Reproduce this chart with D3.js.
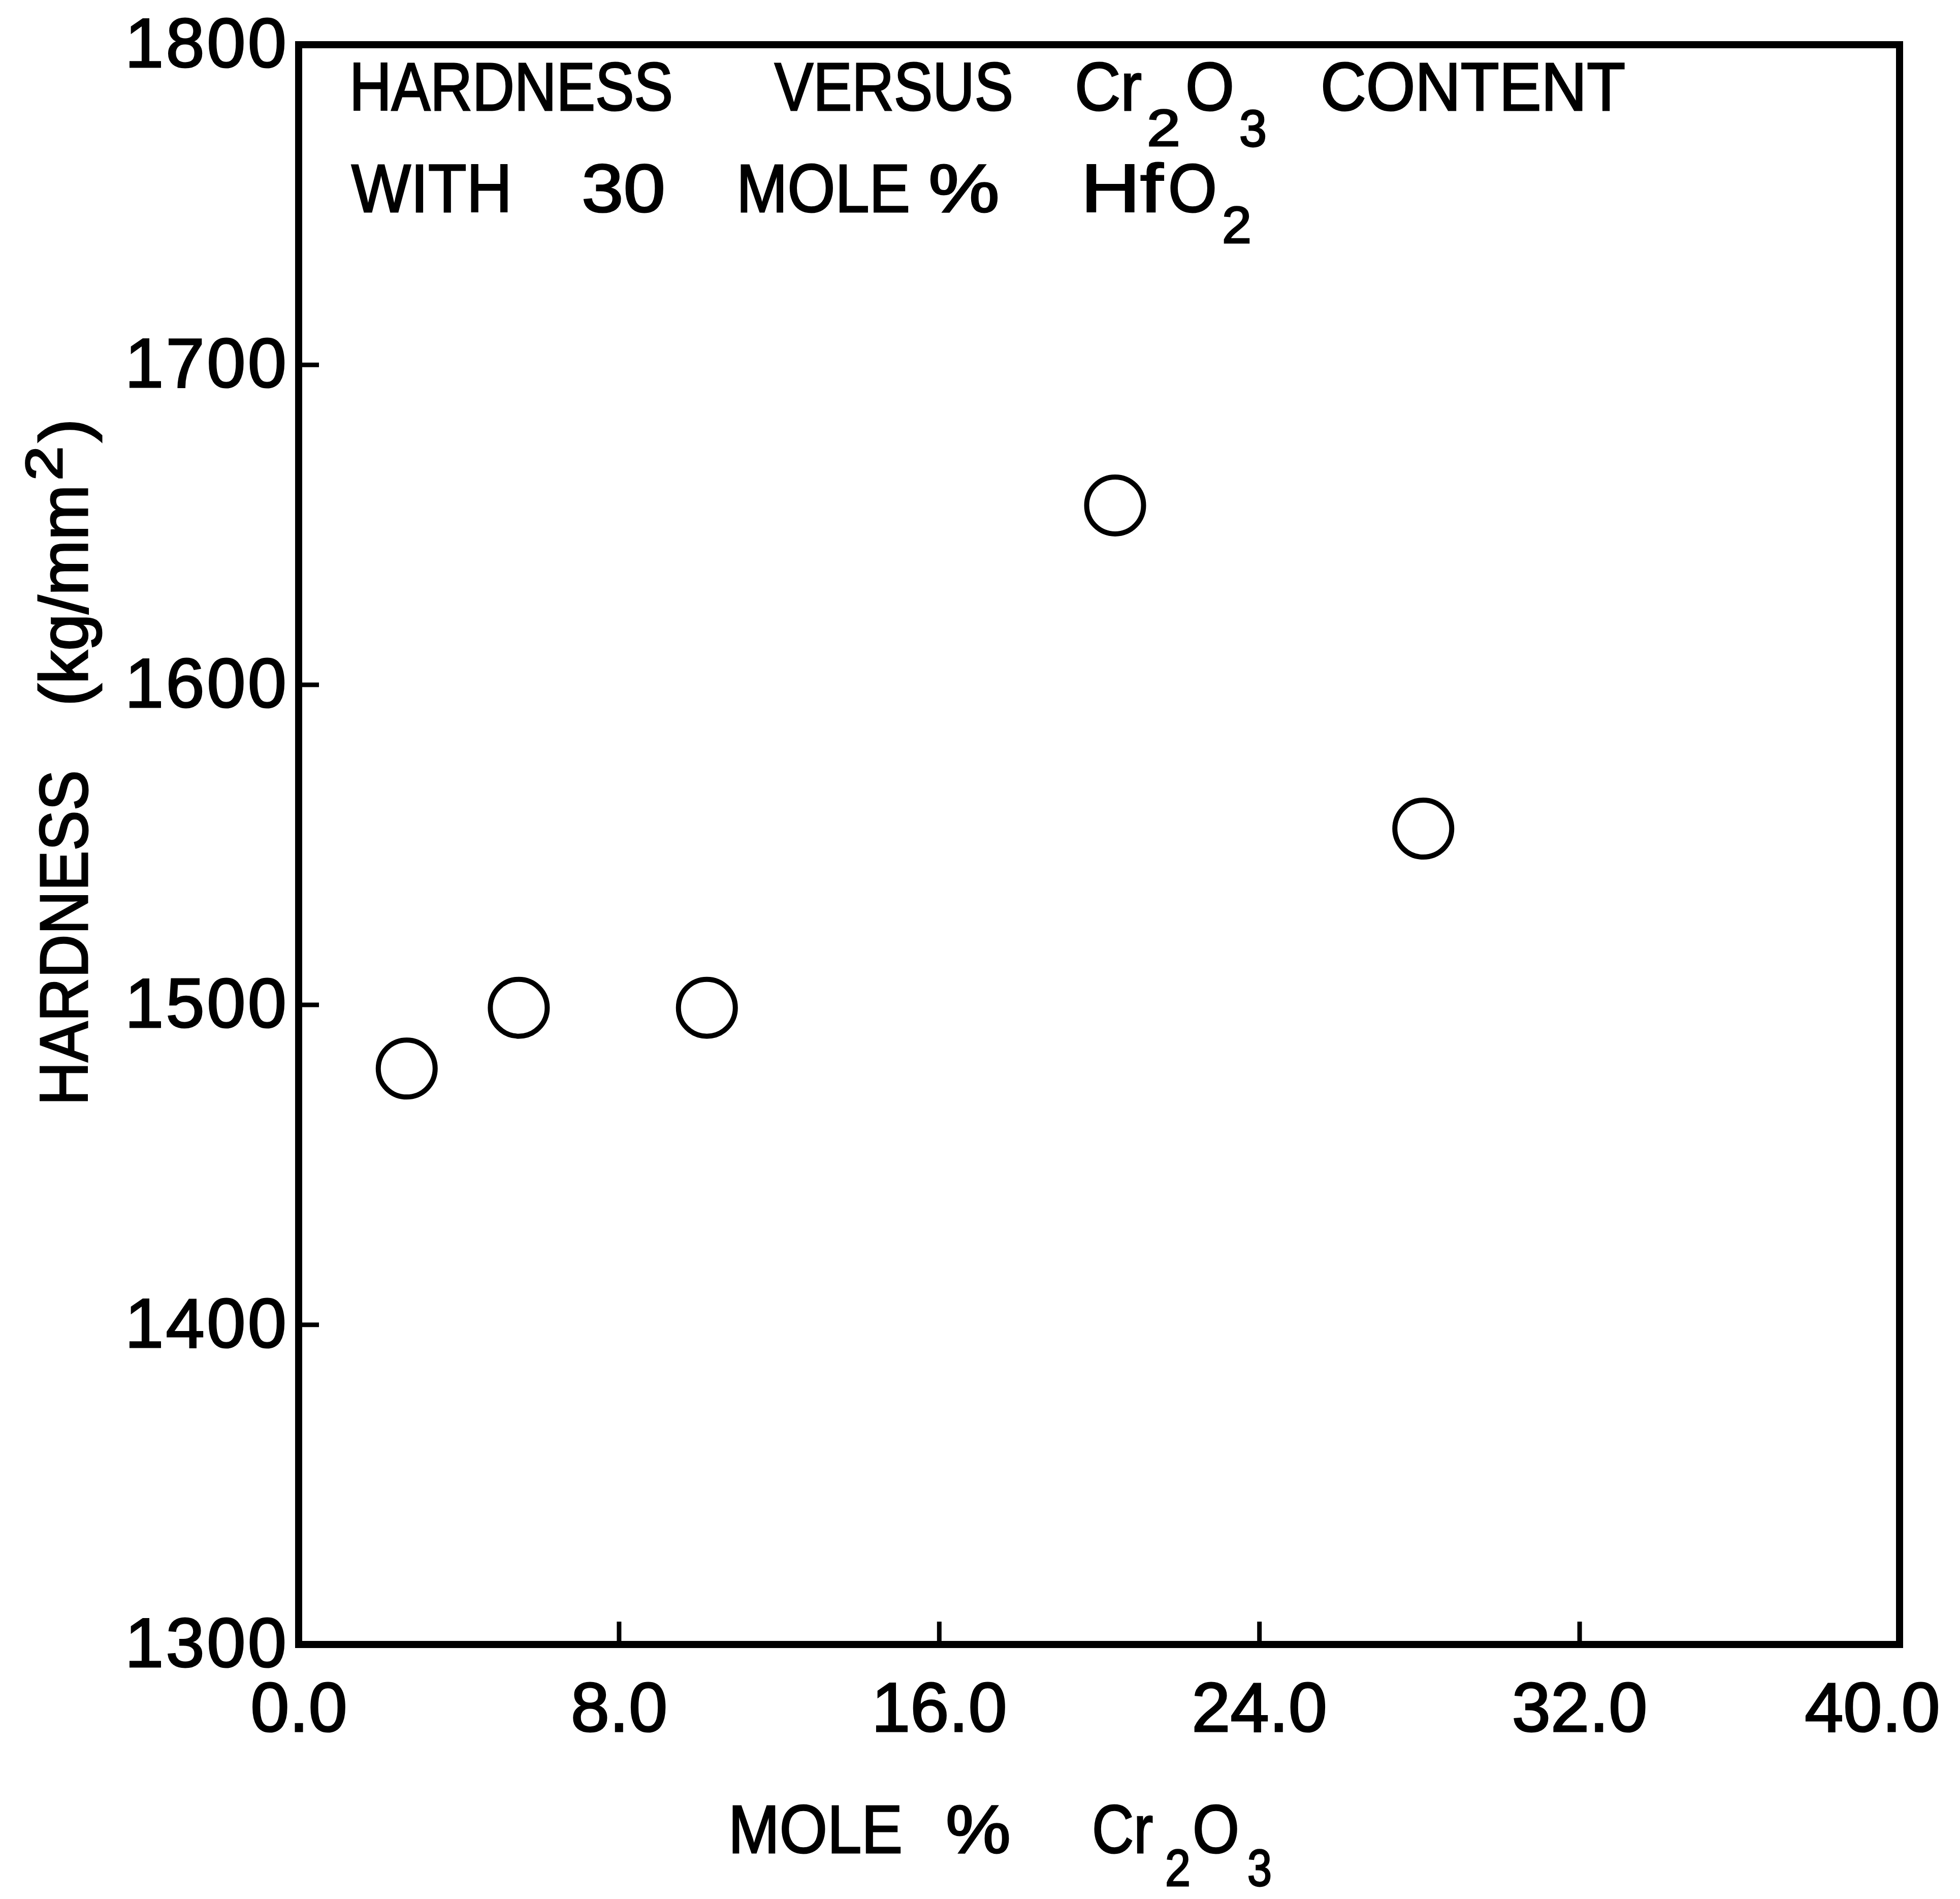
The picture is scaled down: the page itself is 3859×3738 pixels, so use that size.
<!DOCTYPE html>
<html>
<head>
<meta charset="utf-8">
<script src="https://cdn.jsdelivr.net/npm/d3@7"></script>
<style>
  body { margin: 0; background: #fff; }
  text { font-family: "Liberation Sans", Arial, sans-serif; fill: #000; stroke: #000; stroke-width: 3px; }
</style>
</head>
<body>
<script>

// values
const moleCr2O3 = [2.7, 5.5, 10.2, 20.4, 28.1];
const hardness = [1480, 1499, 1499, 1656, 1555];

const xTicks = [0, 8, 16, 24, 32, 40];
const yTicks = [1300, 1400, 1500, 1600, 1700, 1800];

const width = 3859;
const height = 3738;

const svg = d3.select("body").append("svg")
    .attr("width", width)
    .attr("height", height);

const x = d3.scaleLinear().domain([0, 40]).range([588, 3740]);
const y = d3.scaleLinear().domain([1300, 1800]).range([3237, 88]);

// frame
svg.append("rect")
    .attr("x", x(0))
    .attr("y", y(1800))
    .attr("width", x(40) - x(0))
    .attr("height", y(1300) - y(1800))
    .attr("fill", "none")
    .attr("stroke", "#000")
    .attr("stroke-width", 14);

// x axis
const gx = svg.append("g")
    .attr("transform", `translate(0,${y(1300)})`)
    .call(d3.axisBottom(x)
        .tickValues(xTicks)
        .tickFormat(d3.format(".1f"))
        .tickSizeInner(-45)
        .tickSizeOuter(0)
        .tickPadding(74));
gx.select(".domain").remove();
gx.selectAll(".tick line").attr("stroke", "#000").attr("stroke-width", 9);
gx.selectAll(".tick text")
    .attr("font-size", 137)
    .attr("font-family", null)
    .attr("dx", (d, i, n) => i === n.length - 1 ? -54 : 0);

// y axis
const gy = svg.append("g")
    .attr("transform", `translate(${x(0)},0)`)
    .call(d3.axisLeft(y)
        .tickValues(yTicks)
        .tickFormat(d3.format("d"))
        .tickSizeInner(-40)
        .tickSizeOuter(0)
        .tickPadding(24));
gy.select(".domain").remove();
gy.selectAll(".tick line").attr("stroke", "#000").attr("stroke-width", 9);
gy.selectAll(".tick text")
    .attr("font-size", 137)
    .attr("font-family", null)
    .attr("textLength", 318)
    .attr("lengthAdjust", "spacing");

// points
svg.append("g")
  .selectAll("circle")
  .data(moleCr2O3.map((m, i) => [m, hardness[i]]))
  .join("circle")
    .attr("cx", d => x(d[0]))
    .attr("cy", d => y(d[1]))
    .attr("r", 56)
    .attr("fill", "none")
    .attr("stroke", "#000")
    .attr("stroke-width", 10);

// lettering helper: word placed between x0 and x1 on a baseline
function word(parent, txt, x0, x1, base, size) {
  return parent.append("text")
      .attr("x", x0)
      .attr("y", base)
      .attr("font-size", size)
      .attr("textLength", x1 - x0)
      .attr("lengthAdjust", "spacingAndGlyphs")
      .text(txt);
}

// title block
const big = 133, sub = 102;
word(svg, "HARDNESS", 688, 1325, 217, big);
word(svg, "VERSUS", 1525, 1995, 217, big);
word(svg, "Cr", 2116, 2248, 217, big);
word(svg, "2", 2258, 2324, 287, sub);
word(svg, "O", 2334, 2430, 217, big);
word(svg, "3", 2440, 2494, 288, sub);
word(svg, "CONTENT", 2600, 3200, 217, big);

word(svg, "WITH", 692, 1008, 417, big);
word(svg, "30", 1145, 1310, 417, big);
word(svg, "MOLE", 1450, 1792, 417, big);
word(svg, "%", 1828, 1968, 417, big);
word(svg, "Hf", 2128, 2290, 417, big);
word(svg, "O", 2300, 2396, 417, big);
word(svg, "2", 2406, 2464, 478, sub);

// x axis title
word(svg, "MOLE", 1434, 1777, 3647, big);
word(svg, "%", 1862, 1990, 3647, big);
word(svg, "Cr", 2150, 2270, 3647, big);
word(svg, "2", 2294, 2344, 3712, sub);
word(svg, "O", 2348, 2440, 3647, big);
word(svg, "3", 2456, 2504, 3712, sub);

// y axis title, rotated
const gt = svg.append("g").attr("transform", "translate(172,2176) rotate(-90)");
word(gt, "HARDNESS", 0, 660, 0, big);
word(gt, "(kg/mm", 786, 1222, 0, big);
word(gt, "2", 1230, 1298, -50, sub);
word(gt, ")", 1306, 1352, 0, big);

</script>
</body>
</html>
